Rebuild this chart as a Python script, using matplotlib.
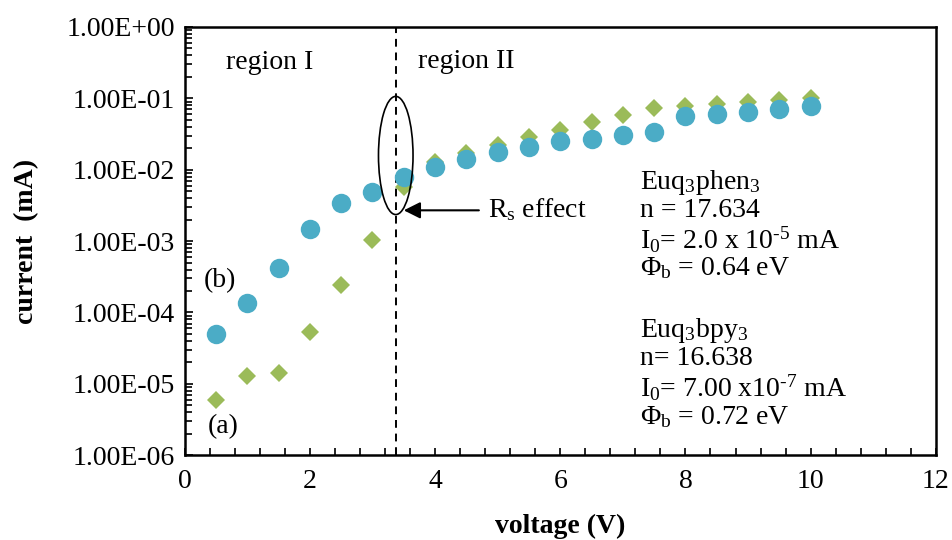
# Curvas I-V en escala logarítmica (Euq3phen3 / Euq3bpy3)
import matplotlib.pyplot as plt
from matplotlib.patches import Ellipse
from matplotlib.ticker import FuncFormatter, LogLocator, MultipleLocator

plt.rcParams['font.family'] = ['Liberation Serif', 'DejaVu Serif']
plt.rcParams['mathtext.fontset'] = 'custom'
plt.rcParams['mathtext.rm'] = 'Liberation Serif'
plt.rcParams['mathtext.it'] = 'Liberation Serif:italic'

# Datos
voltaje = [0.5, 1.0, 1.5, 2.0, 2.5, 3.0, 3.5, 4.0, 4.5, 5.0,
           5.5, 6.0, 6.5, 7.0, 7.5, 8.0, 8.5, 9.0, 9.5, 10.0]

# (a) Euq3bpy3 - rombos verdes
corriente_a = [6.0e-6, 1.3e-5, 1.4e-5, 5.4e-5, 2.4e-4, 1.05e-3, 5.7e-3, 1.3e-2, 1.7e-2, 2.2e-2,
               2.9e-2, 3.6e-2, 4.6e-2, 5.8e-2, 7.3e-2, 7.8e-2, 8.3e-2, 9.0e-2, 9.5e-2, 1.0e-1]

# (b) Euq3phen3 - círculos azules
corriente_b = [5.0e-5, 1.35e-4, 4.2e-4, 1.5e-3, 3.4e-3, 4.8e-3, 7.8e-3, 1.1e-2, 1.4e-2, 1.8e-2,
               2.1e-2, 2.5e-2, 2.7e-2, 3.1e-2, 3.4e-2, 5.7e-2, 6.0e-2, 6.5e-2, 7.0e-2, 7.7e-2]

v_frontera = 3.37

# Figura
fig = plt.figure(figsize=(9.52, 5.4), dpi=100)
ax = fig.add_axes([0.194, 0.157, 0.789, 0.793])

ax.plot(voltaje, corriente_a, linestyle='none', marker='D', markersize=9,
        color='#9BBB59', markeredgewidth=0, zorder=3)
ax.plot(voltaje, corriente_b, linestyle='none', marker='o', markersize=14,
        color='#4BACC6', markeredgewidth=0, zorder=4)

# Ejes
ax.set_yscale('log')
ax.set_xlim(0, 12)
ax.set_ylim(1e-6, 1)
ax.xaxis.set_major_locator(MultipleLocator(2))
ax.xaxis.set_minor_locator(MultipleLocator(0.4))
ax.yaxis.set_major_locator(LogLocator(base=10, numticks=10))
ax.yaxis.set_minor_locator(LogLocator(base=10, subs=range(2, 10), numticks=10))
ax.yaxis.set_major_formatter(FuncFormatter(lambda v, p: f'{v:.2E}'))
ax.yaxis.set_minor_formatter(FuncFormatter(lambda v, p: ''))

ax.tick_params(axis='both', which='both', direction='in', labelsize=20,
               width=1.2, color='black')
ax.tick_params(axis='y', which='major', length=6, pad=7)
ax.tick_params(axis='y', which='minor', length=5)
ax.tick_params(axis='x', which='both', length=5, pad=10)

for lado in ax.spines.values():
    lado.set_linewidth(1.8)

ax.set_xlabel('voltage (V)', fontsize=20, fontweight='bold', labelpad=14)
ax.set_ylabel('current  (mA)', fontsize=20, fontweight='bold', labelpad=20)

# Línea de frontera entre regiones
ax.axvline(v_frontera, color='black', linestyle=(0, (4, 3)), linewidth=1.4, zorder=2)

# Elipse del efecto Rs
ax.add_patch(Ellipse((0.281, 0.70), 0.046, 0.276, transform=ax.transAxes,
                     fill=False, edgecolor='black', linewidth=1.2, zorder=5))

# Flecha
ax.annotate('', xy=(3.5, 2.7e-3), xytext=(4.7, 2.7e-3),
            arrowprops=dict(arrowstyle='-|>', color='black', lw=1.5,
                            mutation_scale=25, shrinkA=0, shrinkB=0))
ax.text(4.85, 2.8e-3, 'R$_\\mathrm{s}$ effect', fontsize=20, va='center', ha='left')

# Etiquetas de regiones y curvas
ax.text(1.35, 0.32, 'region I', fontsize=20, ha='center', va='center')
ax.text(4.5, 0.33, 'region II', fontsize=20, ha='center', va='center')
ax.text(0.57, 2.8e-4, '(b)', fontsize=20, ha='center', va='center')
ax.text(0.62, 2.5e-6, '(a)', fontsize=20, ha='center', va='center')

# Parámetros
lineas = [
    'Euq$_3$phen$_3$',
    'n = 17.634',
    'I$_0$= 2.0 x 10$^{\\text{-5}}$ mA',
    '\u03A6$_\\mathrm{b}$ = 0.64 eV',
    'Euq$_3$bpy$_3$',
    'n= 16.638',
    'I$_0$= 7.00 x10$^{\\text{-7}}$ mA',
    '\u03A6$_\\mathrm{b}$ = 0.72 eV',
]
posiciones_y = [0.636, 0.572, 0.502, 0.437, 0.292, 0.227, 0.157, 0.089]

for texto, y in zip(lineas, posiciones_y):
    ax.text(0.606, y, texto, transform=ax.transAxes, fontsize=20,
            ha='left', va='center')

plt.savefig('out.png', dpi=100)
